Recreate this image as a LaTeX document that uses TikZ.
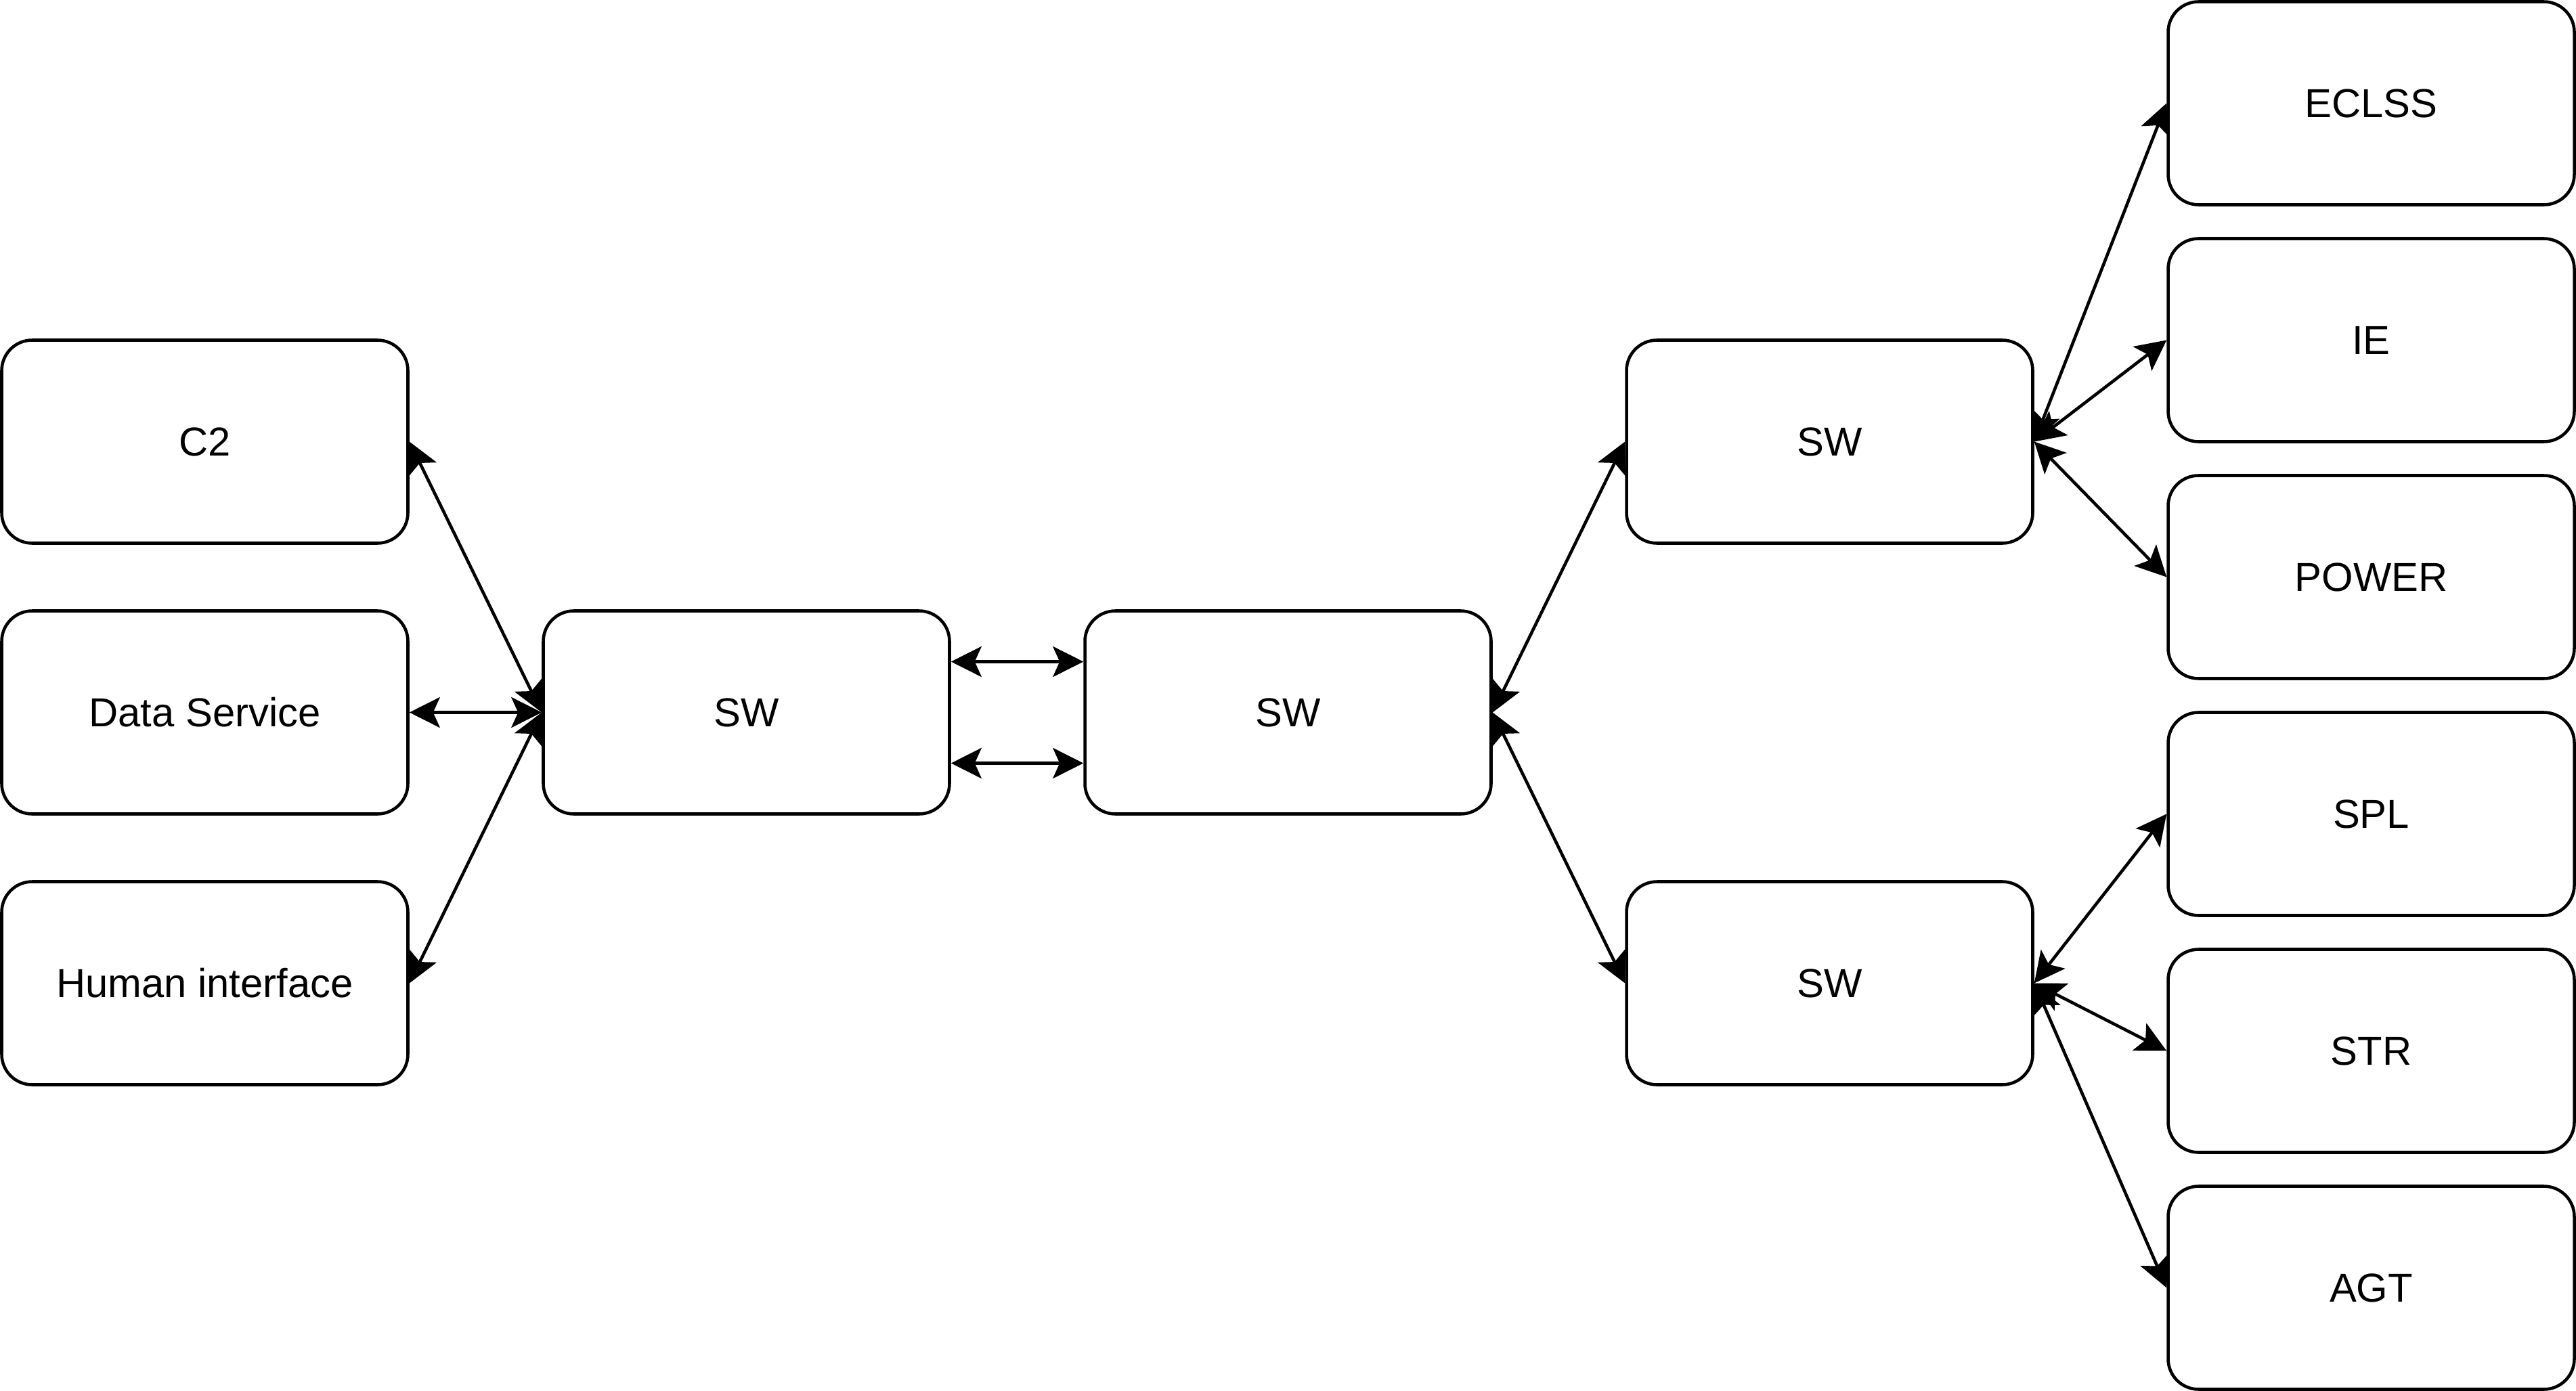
\documentclass[tikz,border=0pt]{standalone}
\usepackage{fontspec}
\setmainfont{Liberation Sans}
\usetikzlibrary{arrows.meta}
\begin{document}
\begin{tikzpicture}[x=0.05cm,y=-0.05cm,
  box/.style={draw, line width=1.3pt, rounded corners=0.45cm, rectangle,
    minimum width=6cm, minimum height=3cm, inner sep=0pt,
    font=\fontsize{17}{20}\selectfont},
  link/.style={line width=1.3pt,
    {Stealth[length=0.45cm,width=0.45cm,inset=0.1cm]}-{Stealth[length=0.45cm,width=0.45cm,inset=0.1cm]}}]
\useasboundingbox (-0.5,-0.5) rectangle (760.5,410.5);
% left column
\node[box] (c2) at (60,130) {C2};
\node[box] (ds) at (60,210) {Data Service};
\node[box] (hi) at (60,290) {Human interface};
% switches
\node[box] (swa) at (220,210) {SW};
\node[box] (swb) at (380,210) {SW};
\node[box] (swc) at (540,130) {SW};
\node[box] (swd) at (540,290) {SW};
% right column
\node[box] (eclss) at (700,30) {ECLSS};
\node[box] (ie) at (700,100) {IE};
\node[box] (power) at (700,170) {POWER};
\node[box] (spl) at (700,240) {SPL};
\node[box] (str) at (700,310) {STR};
\node[box] (agt) at (700,380) {AGT};
% connectors
\draw[link] (c2.east) -- (swa.west);
\draw[link] (ds.east) -- (swa.west);
\draw[link] (hi.east) -- (swa.west);
\draw[link] ([yshift=0.75cm]swa.east) -- ([yshift=0.75cm]swb.west);
\draw[link] ([yshift=-0.75cm]swa.east) -- ([yshift=-0.75cm]swb.west);
\draw[link] (swb.east) -- (swc.west);
\draw[link] (swb.east) -- (swd.west);
\draw[link] (swc.east) -- (eclss.west);
\draw[link] (swc.east) -- (ie.west);
\draw[link] (swc.east) -- (power.west);
\draw[link] (swd.east) -- (spl.west);
\draw[link] (swd.east) -- (str.west);
\draw[link] (swd.east) -- (agt.west);
\end{tikzpicture}
\end{document}
